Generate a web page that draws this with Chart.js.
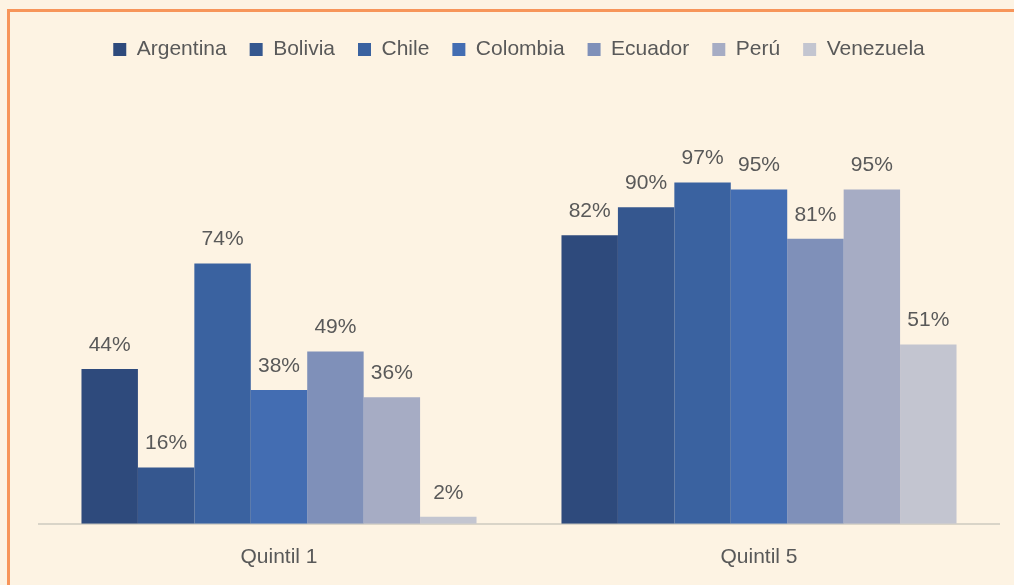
<!DOCTYPE html>
<html>
<head>
<meta charset="utf-8">
<script src="https://cdn.jsdelivr.net/npm/chart.js@4/dist/chart.umd.min.js"></script>
<style>
  html, body { margin: 0; padding: 0; background: #fdf3e3; }
  #frame {
    position: absolute; left: 7px; top: 9px; right: 0; bottom: 0;
    border-top: 3px solid #f7955a; border-left: 3px solid #f7955a;
  }
  #wrap { position: absolute; left: 0; top: 0; width: 1014px; height: 585px; }
</style>
</head>
<body>
<div id="frame"></div>
<div id="wrap"><canvas id="chart" width="1014" height="585"></canvas></div>
<script>
// --- data ---
const categories = ['Quintil 1', 'Quintil 5'];
const countries = ['Argentina', 'Bolivia', 'Chile', 'Colombia', 'Ecuador', 'Perú', 'Venezuela'];
const quintil1 = [0.44, 0.16, 0.74, 0.38, 0.49, 0.36, 0.02];
const quintil5 = [0.82, 0.90, 0.97, 0.95, 0.81, 0.95, 0.51];
const colors = ['#2e4a7c', '#35578f', '#3a62a0', '#436db2', '#7f90b9', '#a6acc4', '#c3c5d0'];

const FONT = "'Liberation Sans', Arial, sans-serif";
const TEXT = '#595959';

// draws the % value above each bar
const valueLabels = {
    id: 'valueLabels',
    afterDatasetsDraw(chart) {
        const ctx = chart.ctx;
        ctx.save();
        ctx.font = '21px ' + FONT;
        ctx.fillStyle = TEXT;
        ctx.textAlign = 'center';
        ctx.textBaseline = 'middle';
        chart.data.datasets.forEach((ds, i) => {
            chart.getDatasetMeta(i).data.forEach((bar, j) => {
                ctx.fillText(Math.round(ds.data[j] * 100) + '%', bar.x, bar.y - 24);
            });
        });
        ctx.restore();
    }
};

new Chart(document.getElementById('chart'), {
    type: 'bar',
    data: {
        labels: categories,
        datasets: countries.map((name, i) => ({
            label: name,
            data: [quintil1[i], quintil5[i]],
            backgroundColor: colors[i],
            borderWidth: 0
        }))
    },
    options: {
        responsive: false,
        animation: false,
        layout: { padding: { left: 39, right: 15, top: 16, bottom: 2 } },
        datasets: { bar: { categoryPercentage: 0.823, barPercentage: 1 } },
        plugins: {
            legend: {
                position: 'top',
                labels: {
                    boxWidth: 13, boxHeight: 13, padding: 23,
                    color: TEXT, font: { family: FONT, size: 21 }
                }
            },
            tooltip: { enabled: false }
        },
        scales: {
            x: {
                grid: { display: false },
                border: { display: true, color: '#d9d4c8', width: 2 },
                ticks: { color: TEXT, padding: 13, font: { family: FONT, size: 21 } }
            },
            y: { display: false, min: 0, max: 1.29 }
        }
    },
    plugins: [valueLabels]
});
</script>
</body>
</html>
